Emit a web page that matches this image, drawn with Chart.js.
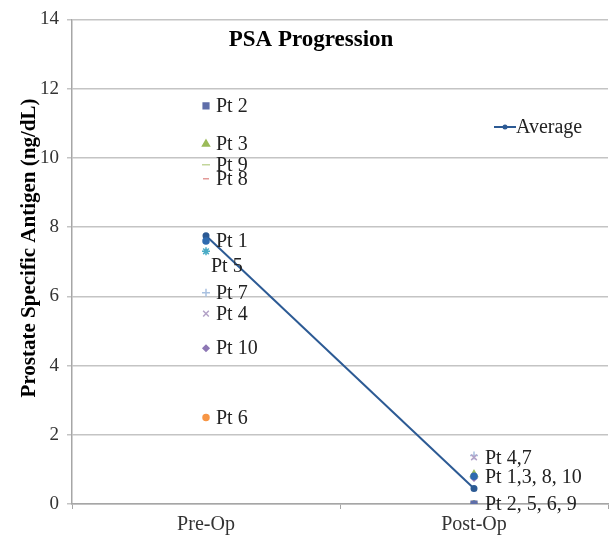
<!DOCTYPE html>
<html>
<head>
<meta charset="utf-8">
<script src="https://cdn.jsdelivr.net/npm/chart.js@4.4.1/dist/chart.umd.min.js"></script>
<style>
  html, body { margin: 0; padding: 0; background: #fff; }
  #wrap { width: 614px; height: 540px; }
</style>
</head>
<body>
<div id="wrap"><canvas id="psaChart" width="614" height="540"></canvas></div>
<script>
const categories = ['Pre-Op', 'Post-Op'];
const yTicks = [0, 2, 4, 6, 8, 10, 12, 14];

// one entry per patient: [Pre-Op, Post-Op]
const patients = ['Pt 1', 'Pt 2', 'Pt 3', 'Pt 4', 'Pt 5', 'Pt 6', 'Pt 7', 'Pt 8', 'Pt 9', 'Pt 10'];
const preOp  = [7.6, 11.5, 10.4, 5.5, 7.3, 2.5, 6.1, 9.4, 9.8, 4.5];
const postOp = [0.8, 0.0, 0.85, 1.35, 0.0, 0.0, 1.4, 0.8, 0.0, 0.75];
const average = [7.75, 0.45];

// grouped labels shown next to the Post-Op points
const postGroups = ['Pt 4,7', 'Pt 1,3, 8, 10', 'Pt 2, 5, 6, 9'];
const postGroupValues = [1.35, 0.8, 0.0];

const markerStyle = [
  { shape: 'circle',   color: '#2F6BB0', r: 3 },
  { shape: 'rect',     color: '#5F6EA9', r: 4 },
  { shape: 'triangle', color: '#9BBB59', r: 4 },
  { shape: 'crossRot', color: '#B3A2C7', r: 4 },
  { shape: 'star',     color: '#4BACC6', r: 4 },
  { shape: 'circle',   color: '#F79646', r: 3 },
  { shape: 'cross',    color: '#A9C1E0', r: 4 },
  { shape: 'line',     color: '#E39A98', r: 3 },
  { shape: 'line',     color: '#C3D69B', r: 4 },
  { shape: 'rectRot',  color: '#8E78B5', r: 3 }
];
// label nudges for overlapping texts
const labelShift = { 'Pt 5': 14 };

const serif = '"Liberation Serif", "Times New Roman", serif';

const datasets = patients.map((name, i) => ({
  label: name,
  data: [preOp[i], postOp[i]],
  showLine: false,
  pointStyle: markerStyle[i].shape,
  pointRadius: markerStyle[i].r,
  pointBackgroundColor: markerStyle[i].color,
  pointBorderColor: markerStyle[i].color,
  pointBorderWidth: 1.5
}));

datasets.push({
  label: 'Average',
  data: average,
  borderColor: '#2C5A94',
  backgroundColor: '#2C5A94',
  borderWidth: 2,
  pointRadius: 2.5,
  pointBackgroundColor: '#2C5A94',
  pointBorderColor: '#2C5A94'
});

/**
 * Text overlays: point labels, titles, legend entry
 */
const overlayPlugin = {
  id: 'overlay',
  afterDatasetsDraw(chart) {
    const ctx = chart.ctx;
    const x = chart.scales.x;
    const y = chart.scales.y;
    ctx.save();
    ctx.fillStyle = '#222';
    ctx.font = '20px ' + serif;
    ctx.textBaseline = 'middle';
    ctx.textAlign = 'left';

    const preX = x.getPixelForValue(0);
    patients.forEach((name, i) => {
      const py = y.getPixelForValue(preOp[i]) + (labelShift[name] || 0);
      ctx.fillText(name, preX + (labelShift[name] ? 5 : 10), py + 1);
    });

    const postX = x.getPixelForValue(1);
    postGroups.forEach((txt, i) => {
      ctx.fillText(txt, postX + 11, y.getPixelForValue(postGroupValues[i]) + 1);
    });

    // chart title
    ctx.font = 'bold 23px ' + serif;
    ctx.fillStyle = '#000';
    ctx.textAlign = 'center';
    ctx.fillText('PSA Progression', 311, 40);

    // value axis title
    ctx.save();
    ctx.translate(30, 248);
    ctx.rotate(-Math.PI / 2);
    ctx.font = 'bold 21px ' + serif;
    ctx.fillText('Prostate Specific Antigen (ng/dL)', 0, 0);
    ctx.restore();

    // legend (Average only)
    const avg = chart.data.datasets[chart.data.datasets.length - 1];
    const lx = 494, ly = 127;
    ctx.strokeStyle = avg.borderColor;
    ctx.lineWidth = 2;
    ctx.beginPath();
    ctx.moveTo(lx, ly);
    ctx.lineTo(lx + 22, ly);
    ctx.stroke();
    ctx.fillStyle = avg.borderColor;
    ctx.beginPath();
    ctx.arc(lx + 11, ly, 2.5, 0, Math.PI * 2);
    ctx.fill();
    ctx.fillStyle = '#222';
    ctx.font = '20px ' + serif;
    ctx.textAlign = 'left';
    ctx.fillText(avg.label, lx + 22, ly + 1);
    ctx.restore();
  }
};

new Chart(document.getElementById('psaChart'), {
  type: 'line',
  data: { labels: categories, datasets },
  plugins: [overlayPlugin],
  options: {
    responsive: false,
    animation: false,
    layout: { padding: { top: 15, right: 4, left: 0, bottom: 0 } },
    plugins: {
      legend: { display: false },
      title: { display: false },
      tooltip: { enabled: false }
    },
    scales: {
      x: {
        offset: true,
        grid: {
          offset: true,
          drawOnChartArea: false,
          drawTicks: true,
          tickLength: 5,
          color: '#A6A6A6'
        },
        border: { color: '#A6A6A6', width: 1.5 },
        ticks: { color: '#333', font: { family: serif, size: 20 }, padding: 4 },
        afterFit(scale) { scale.height = 36; }
      },
      y: {
        min: 0,
        max: 14,
        afterBuildTicks(scale) { scale.ticks = yTicks.map(v => ({ value: v })); },
        grid: { color: '#C4C4C4', tickLength: 5, lineWidth: 1.5 },
        border: { color: '#A6A6A6', width: 1.5 },
        ticks: { color: '#333', font: { family: serif, size: 19 }, padding: 8 },
        afterFit(scale) { scale.width = 72; }
      }
    }
  }
});
</script>
</body>
</html>
